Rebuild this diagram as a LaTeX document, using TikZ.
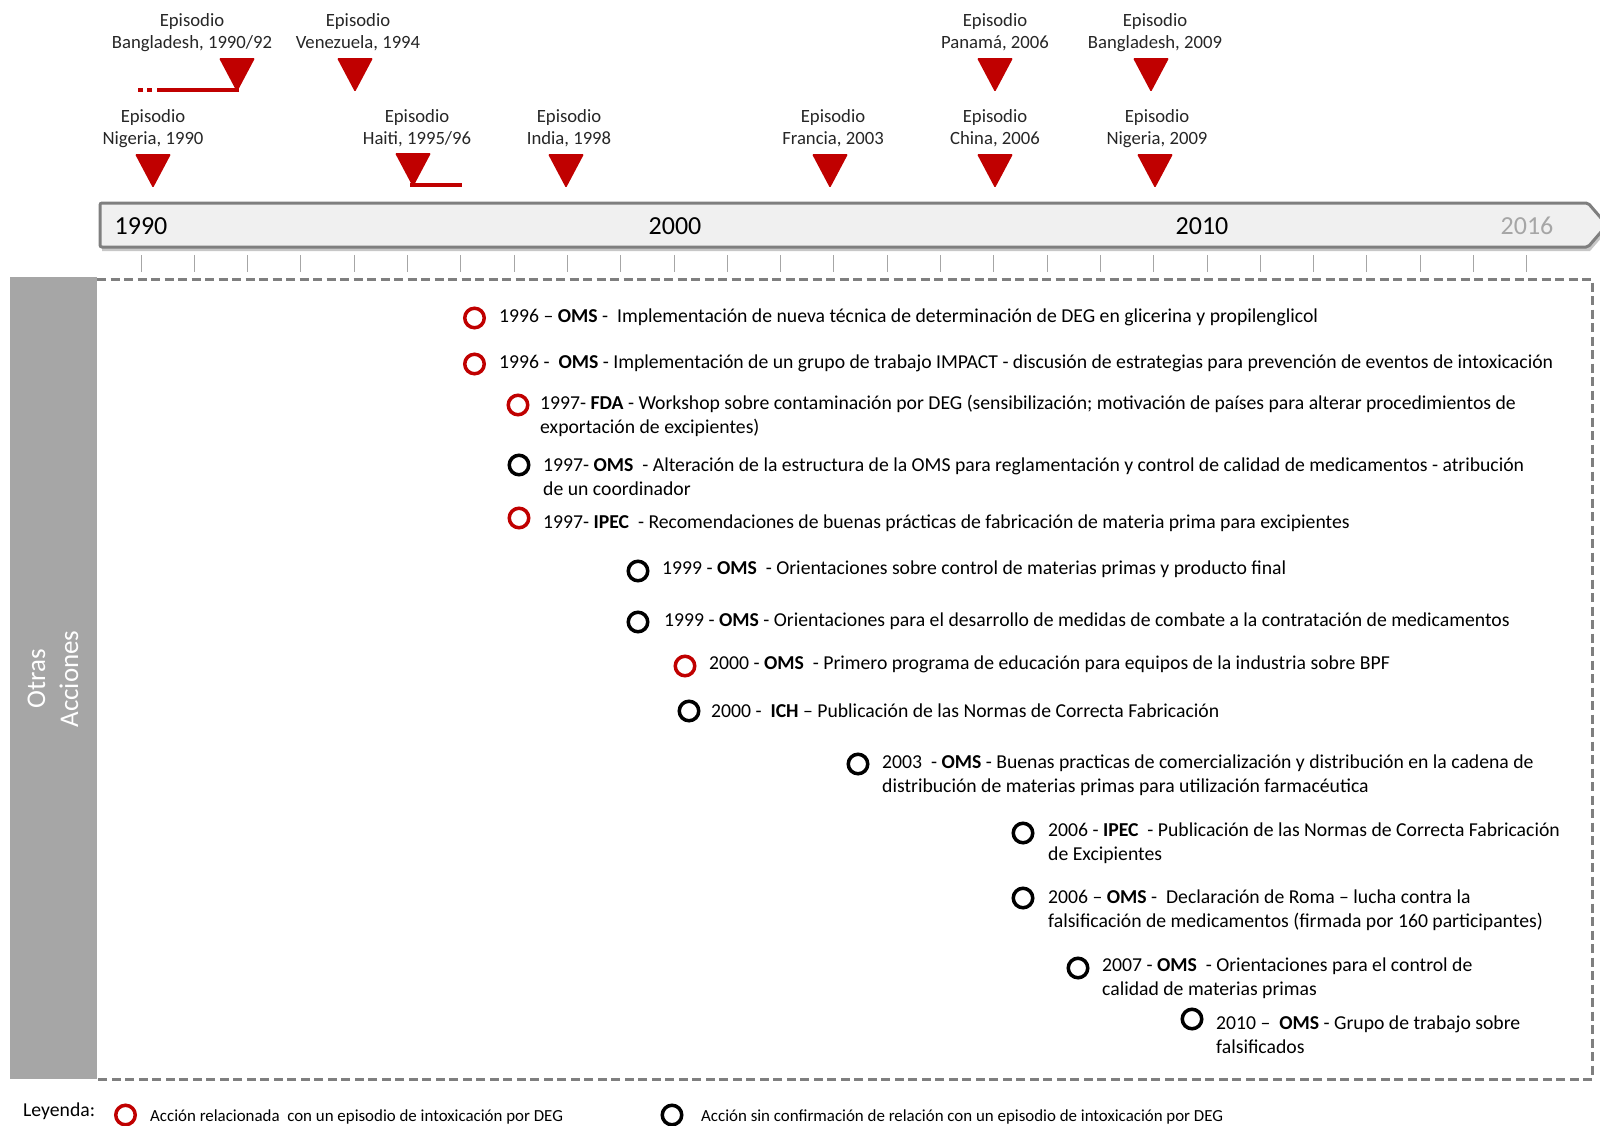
\documentclass[tikz,border=0pt]{standalone}
\usepackage{fontspec}
\setmainfont{Carlito}
\definecolor{epired}{HTML}{C00000}
\definecolor{framegray}{HTML}{7F7F7F}
\definecolor{bargray}{HTML}{A6A6A6}
\definecolor{labelgray}{HTML}{262626}
\definecolor{barfill}{HTML}{F0F0F0}
\newcommand\linesl[1]{\begin{tabular}[t]{@{}l@{}}#1\end{tabular}}
\newcommand\linesc[1]{\begin{tabular}[t]{@{}c@{}}#1\end{tabular}}

\begin{document}
\begin{tikzpicture}[x=1pt,y=-1pt,
  eplabel/.style={anchor=base, inner sep=0, text=labelgray, font=\fontsize{18.7}{22.5}\selectfont},
  yearlabel/.style={anchor=base, inner sep=0, font=\fontsize{26}{30}\selectfont},
  acttext/.style={anchor=base west, inner sep=0, text=black, font=\fontsize{19.7}{24.5}\selectfont},
  actmark/.style={circle, draw=#1, line width=3.5, minimum size=19.5, inner sep=0},
  legtext/.style={anchor=base west, inner sep=0, text=black, font=\fontsize{16.9}{20}\selectfont},
  epitri/.pic={\fill[epired, rounded corners=1.2] (-18,0) -- (18,0) -- (0,34) -- cycle;},
  yeartick/.style={draw=gray!70, line width=1},
  frameline/.style={framegray, line width=3, dash pattern=on 9 off 4.5},
]
\useasboundingbox (0,0) rectangle (1600,1125);

% ---------- episode markers ----------
\pic at (237,58)  {epitri};
\pic at (355,58)  {epitri};
\pic at (995,58)  {epitri};
\pic at (1151,58) {epitri};
\pic at (153,154) {epitri};
\pic at (413,153) {epitri};
\pic at (566,154) {epitri};
\pic at (830,154) {epitri};
\pic at (995,154) {epitri};
\pic at (1155,154){epitri};

\coordinate (bgdtip) at (239,90);
\coordinate (bgdend) at (157,90);
\draw[epired, line width=4.5] (bgdtip) -- (bgdend);
\draw[epired, line width=4.5, dash pattern=on 5 off 4] (152,90) -- (138,90);
\coordinate (haititip) at (410,185);
\coordinate (haitiend) at (462,185);
\draw[epired, line width=4] (haititip) -- (haitiend);

\node[eplabel] (lbgd90) at (192,26)  {\linesc{Episodio\\Bangladesh, 1990/92}};
\node[eplabel] (lven94) at (358,26)  {\linesc{Episodio\\Venezuela, 1994}};
\node[eplabel] (lpan06) at (995,26)  {\linesc{Episodio\\Panamá, 2006}};
\node[eplabel] (lbgd09) at (1155,26) {\linesc{Episodio\\Bangladesh, 2009}};
\node[eplabel] (lnig90) at (153,122) {\linesc{Episodio\\Nigeria, 1990}};
\node[eplabel] (lhai95) at (417,122) {\linesc{Episodio\\Haiti, 1995/96}};
\node[eplabel] (lind98) at (569,122) {\linesc{Episodio\\India, 1998}};
\node[eplabel] (lfra03) at (833,122) {\linesc{Episodio\\Francia, 2003}};
\node[eplabel] (lchi06) at (995,122) {\linesc{Episodio\\China, 2006}};
\node[eplabel] (lnig09) at (1157,122){\linesc{Episodio\\Nigeria, 2009}};

% ---------- time axis ----------
\fill[black, opacity=0.22] (102,207) -- (1590,207) -- (1609,229) -- (1590,251) -- (102,251) -- cycle;
\draw[framegray, line width=3, fill=barfill, rounded corners=2] (100,203) -- (1588,203) -- (1607,225) -- (1588,247) -- (100,247) -- cycle;
\node[yearlabel] (y1990) at (141,234) {1990};
\node[yearlabel] (y2000) at (675,234) {2000};
\node[yearlabel] (y2010) at (1202,234) {2010};
\node[yearlabel, text=bargray] (y2016) at (1527,234) {2016};
\foreach \k in {0,...,26} \draw[yeartick] ({141+53.3*\k},255) -- ++(0,17);

% ---------- actions frame ----------
\draw[frameline] (97,279) -- (1592,279) -- (1592,1079) -- (97,1079);
\fill[bargray] (10,277) rectangle (97,1079);
\node[rotate=90, text=white, align=center, font=\fontsize{27}{33}\selectfont] (side) at (53,679) {Otras\\Acciones};

% ---------- actions ----------
\node[actmark=epired] (c1) at (474.5,318) {};
\node[acttext] (t1) at (499,322) {1996 – \textbf{OMS} - \ Implementación de nueva técnica de determinación de DEG en glicerina y propilenglicol};
\node[actmark=epired] (c2) at (474.5,364) {};
\node[acttext] (t2) at (499,368) {1996 - \ \textbf{OMS} - Implementación de un grupo de trabajo IMPACT - discusión de estrategias para prevención de eventos de intoxicación};
\node[actmark=epired] (c3) at (518,405) {};
\node[acttext] (t3) at (540,409) {\linesl{1997- \textbf{FDA} - Workshop sobre contaminación por DEG (sensibilización; motivación de países para alterar procedimientos de\\exportación de excipientes)}};
\node[actmark=black] (c4) at (519,465) {};
\node[acttext] (t4) at (543,471) {\linesl{1997- \textbf{OMS} \ - Alteración de la estructura de la OMS para reglamentación y control de calidad de medicamentos - atribución\\de un coordinador}};
\node[actmark=epired] (c5) at (519,518) {};
\node[acttext] (t5) at (543,528) {1997- \textbf{IPEC} \ - Recomendaciones de buenas prácticas de fabricación de materia prima para excipientes};
\node[actmark=black] (c6) at (638,571) {};
\node[acttext] (t6) at (662,574) {1999 - \textbf{OMS} \ - Orientaciones sobre control de materias primas y producto final};
\node[actmark=black] (c7) at (638,622) {};
\node[acttext] (t7) at (664,626) {1999 - \textbf{OMS} - Orientaciones para el desarrollo de medidas de combate a la contratación de medicamentos};
\node[actmark=epired] (c8) at (685,666) {};
\node[acttext] (t8) at (709,669) {2000 - \textbf{OMS} \ - Primero programa de educación para equipos de la industria sobre BPF};
\node[actmark=black] (c9) at (689,711) {};
\node[acttext] (t9) at (711,717) {2000 - \ \textbf{ICH} – Publicación de las Normas de Correcta Fabricación};
\node[actmark=black] (c10) at (858,764) {};
\node[acttext] (t10) at (882,768) {\linesl{2003 \ - \textbf{OMS} - Buenas practicas de comercialización y distribución en la cadena de\\distribución de materias primas para utilización farmacéutica}};
\node[actmark=black] (c11) at (1023,833) {};
\node[acttext] (t11) at (1048,836) {\linesl{2006 - \textbf{IPEC} \ - Publicación de las Normas de Correcta Fabricación\\de Excipientes}};
\node[actmark=black] (c12) at (1023,898) {};
\node[acttext] (t12) at (1048,903) {\linesl{2006 – \textbf{OMS} - \ Declaración de Roma – lucha contra la\\falsificación de medicamentos (firmada por 160 participantes)}};
\node[actmark=black] (c13) at (1078,968) {};
\node[acttext] (t13) at (1102,971) {\linesl{2007 - \textbf{OMS} \ - Orientaciones para el control de\\calidad de materias primas}};
\node[actmark=black] (c14) at (1192,1019) {};
\node[acttext] (t14) at (1216,1029) {\linesl{2010 – \ \textbf{OMS} - Grupo de trabajo sobre\\falsificados}};

% ---------- legend ----------
\node[acttext] (leg) at (23,1116) {Leyenda:};
\node[actmark=epired] (legred) at (125.5,1115) {};
\node[legtext] (legredtxt) at (150,1121) {Acción relacionada \ con un episodio de intoxicación por DEG};
\node[actmark=black] (legblack) at (672,1115) {};
\node[legtext] (legblacktxt) at (701,1121) {Acción sin confirmación de relación con un episodio de intoxicación por DEG};
\end{tikzpicture}
\end{document}
